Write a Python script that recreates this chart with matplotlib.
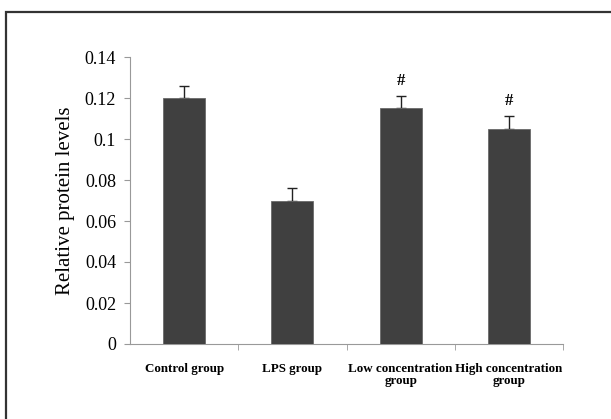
import matplotlib
matplotlib.use("Agg")
import matplotlib.pyplot as plt
from matplotlib.patches import Rectangle

categories = ["Control group", "LPS group", "Low concentration\ngroup", "High concentration\ngroup"]
values = [0.120, 0.070, 0.115, 0.105]
errors = [0.006, 0.006, 0.006, 0.006]
marks = ["", "", "#", "#"]
yticks = [0, 0.02, 0.04, 0.06, 0.08, 0.1, 0.12, 0.14]
ytick_labels = ["0", "0.02", "0.04", "0.06", "0.08", "0.1", "0.12", "0.14"]

plt.rcParams['font.family'] = ['Liberation Serif', 'DejaVu Serif']

fig = plt.figure(figsize=(6.11, 4.19), dpi=100)
fig.patches.append(Rectangle((6/611, -0.05), 1.1, 1 - 12/419 + 0.05, transform=fig.transFigure,
                             fill=False, edgecolor='#333333', linewidth=1.6))

ax = fig.add_axes([130/611, 1 - 344/419, 433/611, 287/419])
x = list(range(len(categories)))
ax.bar(x, values, width=0.39, color='#404040', edgecolor='#6a6a6a', linewidth=0.6, zorder=3)
ax.errorbar(x, values, yerr=[[0]*len(errors), errors], fmt='none', ecolor='#222222',
            elinewidth=1.0, capsize=3.5, capthick=1.0, zorder=2)
for xi, v, e, m in zip(x, values, errors, marks):
    if m:
        ax.text(xi, v + e + 0.0035, m, ha='center', va='bottom', fontsize=12, fontweight='bold')

ax.set_xlim(-0.5, len(categories) - 0.5)
ax.set_ylim(0, 0.14)
ax.set_yticks(yticks)
ax.set_yticklabels(ytick_labels, fontsize=13)
ax.set_xticks(x)
ax.set_xticklabels(categories, fontsize=9.4, fontweight='bold', linespacing=1.0)
ax.tick_params(axis='x', length=0, pad=14)
ax.set_xticks([i + 0.5 for i in range(len(categories))], minor=True)
ax.tick_params(axis='x', which='minor', length=4, color='#999999', direction='out')
ax.tick_params(axis='y', length=4, color='#999999', width=0.8, pad=6)

for s in ['top', 'right']:
    ax.spines[s].set_visible(False)
for s in ['left', 'bottom']:
    ax.spines[s].set_color('#999999')
    ax.spines[s].set_linewidth(0.8)

ax.set_ylabel("Relative protein levels", fontsize=15, labelpad=7)

fig.savefig("out.png", dpi=100)
